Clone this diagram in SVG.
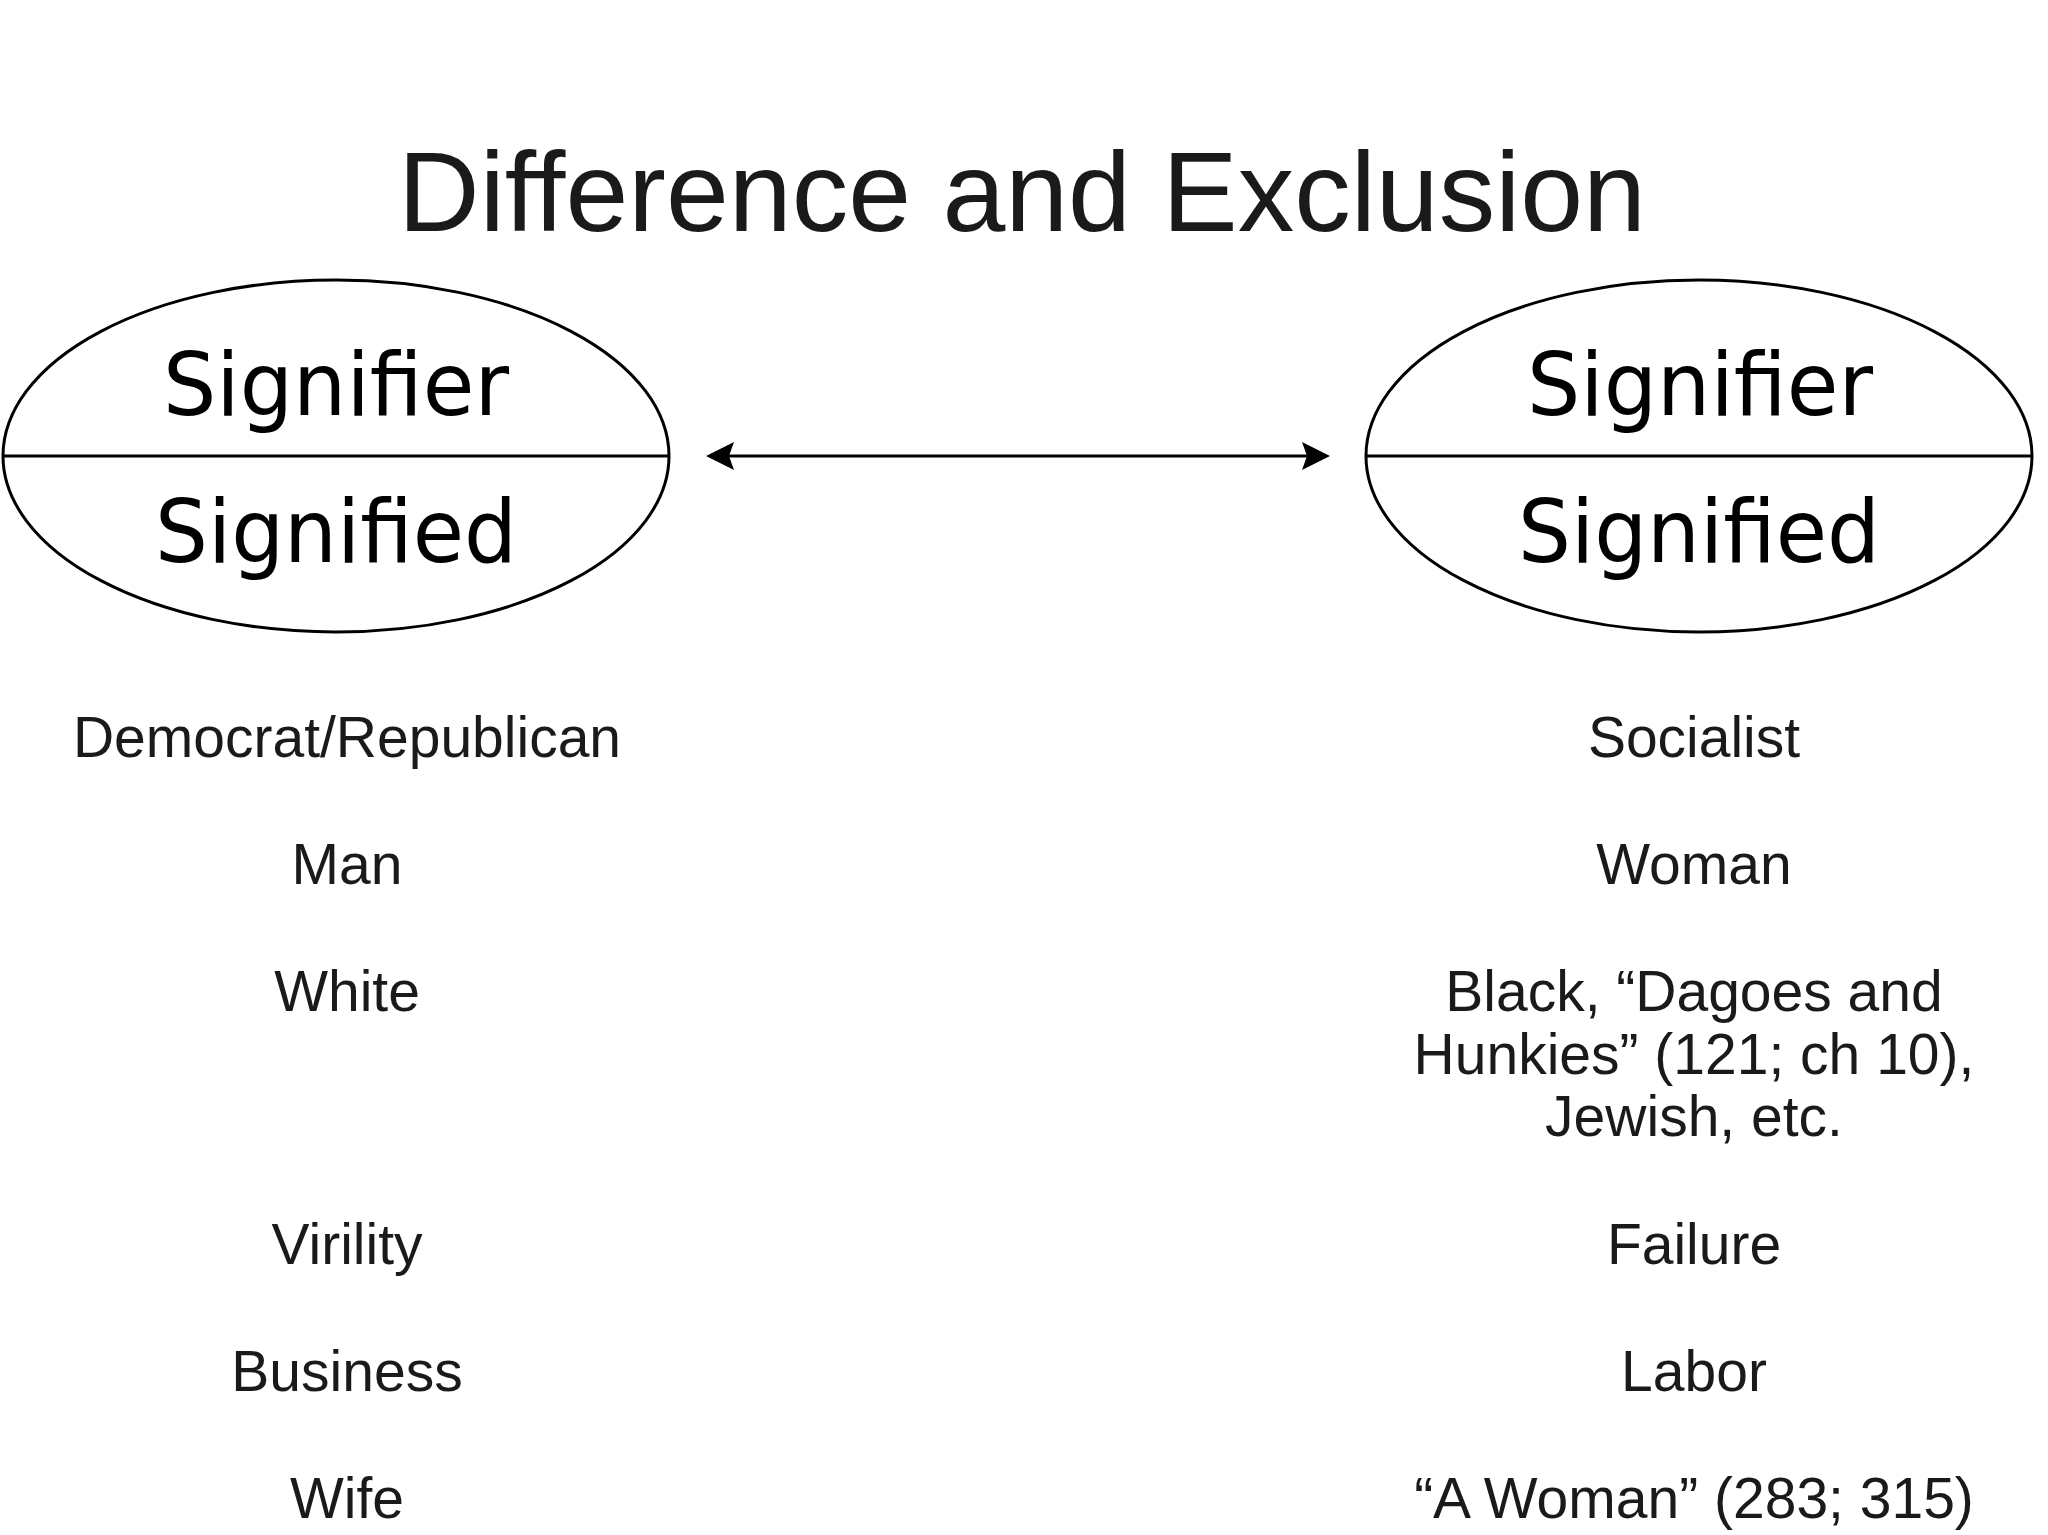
<svg xmlns="http://www.w3.org/2000/svg" width="2048" height="1535" viewBox="0 0 2048 1535">
<style>
.title{font-family:"Liberation Sans",Arial,sans-serif;font-size:113px;fill:#1a1a1a;text-anchor:middle}
.sig{font-family:"DejaVu Sans",Verdana,sans-serif;font-size:88px;fill:#000;text-anchor:middle}
.item{font-family:"Liberation Sans",Arial,sans-serif;font-size:57px;fill:#1a1a1a;text-anchor:middle}
.ell{fill:#fff;stroke:#000;stroke-width:3}
.div{stroke:#000;stroke-width:3}
.conn{stroke:#000;stroke-width:3;fill:none}
</style>
<defs>
<marker id="head" markerUnits="userSpaceOnUse" viewBox="-2 -16 34 32" markerWidth="34" markerHeight="32" refX="22" refY="0" orient="auto-start-reverse">
<path d="M28,0 L0,-14 L5,0 L0,14 Z" fill="#000"/>
</marker>
</defs>
<rect width="2048" height="1535" fill="#fff"/>
<text class="title" x="1022" y="231">Difference and Exclusion</text>
<g id="sign-left">
<ellipse class="ell" cx="336" cy="456" rx="333" ry="176"/>
<line class="div" x1="3" y1="456" x2="669" y2="456"/>
<text class="sig" x="336" y="415" textLength="346" lengthAdjust="spacingAndGlyphs">Signifier</text>
<text class="sig" x="336" y="562" textLength="362" lengthAdjust="spacingAndGlyphs">Signified</text>
</g>
<g id="sign-right">
<ellipse class="ell" cx="1699" cy="456" rx="333" ry="176"/>
<line class="div" x1="1366" y1="456" x2="2032" y2="456"/>
<text class="sig" x="1700" y="415" textLength="346" lengthAdjust="spacingAndGlyphs">Signifier</text>
<text class="sig" x="1699" y="562" textLength="362" lengthAdjust="spacingAndGlyphs">Signified</text>
</g>
<g id="connectors">
<line class="conn" x1="712" y1="456" x2="1324" y2="456" marker-start="url(#head)" marker-end="url(#head)"/>
</g>
<g id="list-left">
<text class="item" x="347" y="757">Democrat/Republican</text>
<text class="item" x="347" y="884">Man</text>
<text class="item" x="347" y="1011">White</text>
<text class="item" x="347" y="1264">Virility</text>
<text class="item" x="347" y="1391">Business</text>
<text class="item" x="347" y="1518">Wife</text>
</g>
<g id="list-right">
<text class="item" x="1694" y="757">Socialist</text>
<text class="item" x="1694" y="884">Woman</text>
<text class="item" x="1694" y="1011">Black, “Dagoes and</text>
<text class="item" x="1694" y="1074">Hunkies” (121; ch 10),</text>
<text class="item" x="1694" y="1136">Jewish, etc.</text>
<text class="item" x="1694" y="1264">Failure</text>
<text class="item" x="1694" y="1391">Labor</text>
<text class="item" x="1694" y="1518">“A Woman” (283; 315)</text>
</g>
</svg>
